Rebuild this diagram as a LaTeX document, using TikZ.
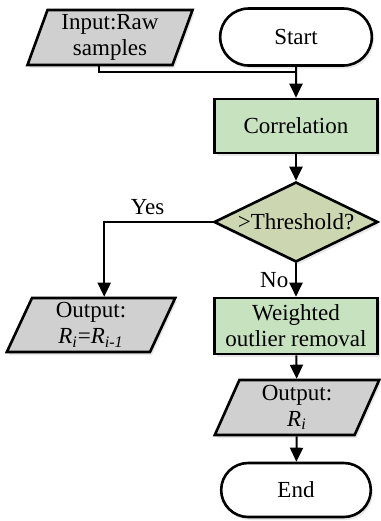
\documentclass[tikz,border=0pt]{standalone}
\usepackage{fontspec}
\setmainfont{Liberation Serif}
\usepackage{tikz}
\usepackage{xcolor}
\usetikzlibrary{positioning, arrows.meta, shapes.misc, shapes.geometric, shadows}

\definecolor{procgreen}{RGB}{198,226,190}
\definecolor{decgreen}{RGB}{204,214,176}
\definecolor{iogray}{RGB}{208,208,208}
\newcommand{\Rsub}[1]{\textit{R}\textsubscript{\textit{#1}}}

\begin{document}
\begin{tikzpicture}[x=0.5pt, y=-0.5pt, >={Triangle[length=7pt,width=6.5pt]},
    font=\fontsize{11.5}{13}\selectfont,
    shade/.style={drop shadow={shadow xshift=1pt, shadow yshift=-1.5pt, opacity=0.18}},
    terminal/.style={rounded rectangle, draw, line width=1.3pt, fill=white, shade},
    process/.style={rectangle, draw, line width=1.3pt, fill=procgreen, align=center, inner sep=1pt, shade},
    decision/.style={diamond, draw, line width=1.3pt, fill=decgreen, inner sep=0pt, aspect=2, shade},
    io/.style={trapezium, trapezium left angle=72, trapezium right angle=108, trapezium stretches=true,
      draw, line width=1.3pt, fill=iogray, align=center, inner sep=1pt, shade},
    link/.style={line width=1pt}]
  \useasboundingbox (0,0) rectangle (381,521);
        \node[io, minimum width=83pt, minimum height=27.5pt] at (110,37.5) (input) {Input:Raw\\samples};
        \node[terminal, minimum width=82.5pt, minimum height=28.5pt] at (296,37) (start) {Start};
        \coordinate (merge) at (296,72);
        \node[process, minimum width=81.5pt, minimum height=27pt] at (296,126) (corr) {Correlation};
        \node[decision, minimum width=82pt, minimum height=40pt] at (296,222) (dec) {>Threshold?};
        \node[io, minimum width=84.5pt, minimum height=27pt] at (91,325) (yesout) {Output:\\\Rsub{i}=\Rsub{i-1}};
        \node[process, minimum width=81.5pt, minimum height=28pt] at (296,326) (weighted) {Weighted\\outlier removal};
        \node[io, minimum width=82.5pt, minimum height=27.5pt] at (297,407.5) (outri) {Output:\\\Rsub{i}};
        \node[terminal, minimum width=81.5pt, minimum height=27pt] at (296,490) (stop) {End};
        \draw[link] (input.bottom side) |- (merge);
        \draw[link, ->] (start) -- (corr);
        \draw[link, ->] (corr) -- (dec);
        \draw[link, ->] (dec.west) -| (yesout.top side) node[above, pos=0.3] {Yes};
        \draw[link, ->] (dec) -- (weighted) node[left, midway] {No};
        \draw[link, ->] (weighted) -- (outri);
        \draw[link, ->] (outri) -- (stop);
  \end{tikzpicture}
\end{document}
